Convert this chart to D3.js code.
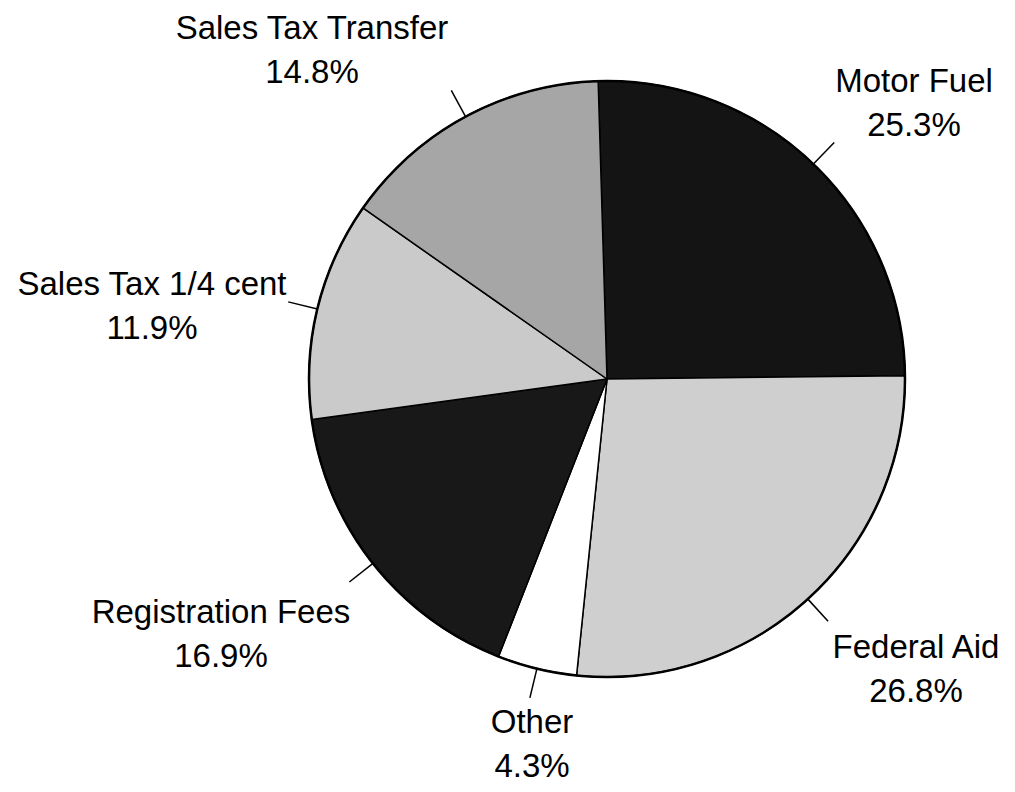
<!DOCTYPE html>
<html>
<head>
<meta charset="utf-8">
<script src="https://cdn.jsdelivr.net/npm/d3@7"></script>
<style>
  html, body { margin: 0; padding: 0; background: #fff; }
  svg { display: block; }
  text { font-family: "Liberation Sans", Arial, Helvetica, sans-serif; fill: #000; }
</style>
</head>
<body>
<svg id="chart" width="1015" height="792"></svg>
<script>
// ---- data ----
const categories = ["Motor Fuel", "Federal Aid", "Other", "Registration Fees", "Sales Tax 1/4 cent", "Sales Tax Transfer"];
const shares = [25.3, 26.8, 4.3, 16.9, 11.9, 14.8];
const pctLabels = ["25.3%", "26.8%", "4.3%", "16.9%", "11.9%", "14.8%"];
const fills = ["#141414", "#cfcfcf", "#ffffff", "#181818", "#cacaca", "#a6a6a6"];

// ---- layout (label text anchors: center x, first baseline y) ----
const labelLayout = [
  [914, 92],
  [916, 658],
  [532, 733],
  [221, 623],
  [152, 295],
  [312, 39]
];

const cx = 607, cy = 379, R = 298;
const startOffset = -1.7 * Math.PI / 180;

const svg = d3.select("#chart");

const data = categories.map((c, i) => ({ name: c, value: shares[i], pct: pctLabels[i], fill: fills[i], layout: labelLayout[i] }));

const pie = d3.pie()
  .value(d => d.value)
  .sort(null)
  .startAngle(startOffset)
  .endAngle(startOffset + 2 * Math.PI);

const arcs = pie(data);
const arc = d3.arc().innerRadius(0).outerRadius(R);

const g = svg.append("g").attr("transform", `translate(${cx},${cy})`);

g.selectAll("path.slice")
  .data(arcs)
  .join("path")
  .attr("class", "slice")
  .attr("d", arc)
  .attr("fill", d => d.data.fill)
  .attr("stroke", "#000")
  .attr("stroke-width", 1.5)
  .attr("stroke-linejoin", "round");

// outer rim
g.append("circle")
  .attr("r", R)
  .attr("fill", "none")
  .attr("stroke", "#000")
  .attr("stroke-width", 2.5);

// leader lines
const rad = d3.scaleLinear().domain([0, 1]).range([R, R + 30]);
const mid = d => (d.startAngle + d.endAngle) / 2;
g.selectAll("line.leader")
  .data(arcs)
  .join("line")
  .attr("class", "leader")
  .attr("x1", d => rad(0) * Math.sin(mid(d)))
  .attr("y1", d => -rad(0) * Math.cos(mid(d)))
  .attr("x2", d => rad(1) * Math.sin(mid(d)))
  .attr("y2", d => -rad(1) * Math.cos(mid(d)))
  .attr("stroke", "#000")
  .attr("stroke-width", 1.5);

// labels
const labels = svg.selectAll("g.label")
  .data(data)
  .join("g")
  .attr("class", "label");

labels.append("text")
  .attr("x", d => d.layout[0])
  .attr("y", d => d.layout[1])
  .attr("text-anchor", "middle")
  .attr("font-size", 33)
  .text(d => d.name);

labels.append("text")
  .attr("x", d => d.layout[0])
  .attr("y", d => d.layout[1] + 44)
  .attr("text-anchor", "middle")
  .attr("font-size", 33)
  .text(d => d.pct);
</script>
</body>
</html>
